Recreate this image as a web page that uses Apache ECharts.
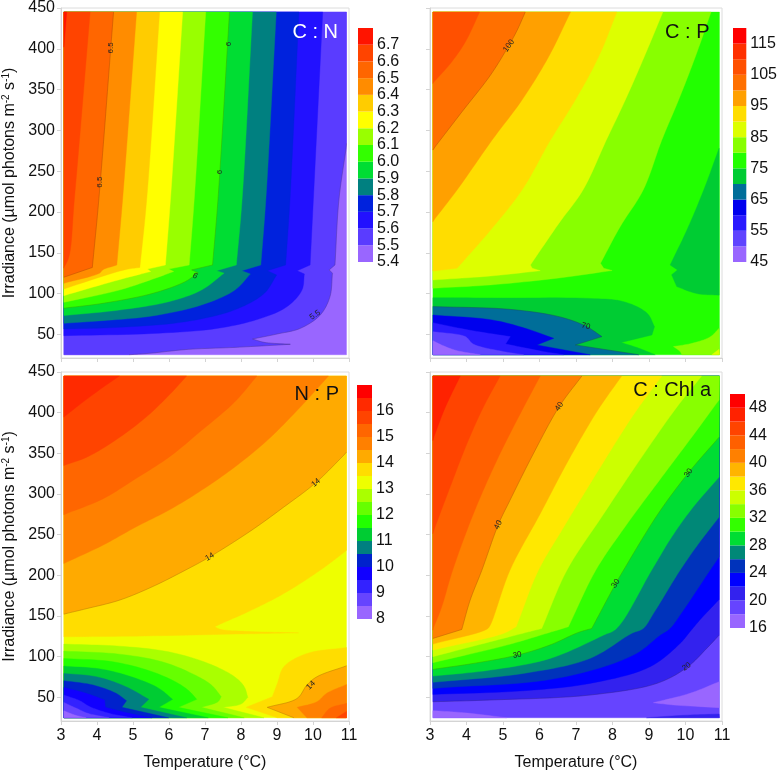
<!DOCTYPE html>
<html><head><meta charset="utf-8">
<script src="https://cdn.jsdelivr.net/npm/echarts@6/dist/echarts.min.js"></script>
<style>html,body{margin:0;padding:0;background:#fff}#c{width:780px;height:773px}</style>
</head><body><div id="c"></div>
<script>
const tempTicks = [3,4,5,6,7,8,9,10,11];
const irrTicks = [50,100,150,200,250,300,350,400,450];

// ---- C : N ----
const cnLevels = [5.4,5.5,5.6,5.7,5.8,5.9,6.0,6.1,6.2,6.3,6.4,6.5,6.6,6.7,6.8];
const cnColors = ['#9966ff','#5a3cff','#2211ff','#0022dd','#008080','#00dd33','#33ff00','#99ff00','#ffff00','#ffcc00','#ff8c00','#ff6600','#ff4400','#ff1400'];
const cnTicks = [5.4,5.5,5.6,5.7,5.8,5.9,6.0,6.1,6.2,6.3,6.4,6.5,6.6,6.7];
const cnContours = [
 [5.4,[[3,450],[11,450],[11,20],[3,20]]],
 [5.5,[[11,450],[10.94,284],[10.72,215],[10.61,135],[10.45,129],[10.54,125],[10.47,96],[10.2,73.7],[9.65,57.4],[9.0,50.4],[8.32,44.3],[8.64,40.2],[9.37,37.8],[7.82,34],[6.54,31.6],[5.44,26.7],[4.89,25],[3,20],[3,450]],true],
 [5.6,[[10.27,445],[10.01,215],[9.92,135],[9.56,128],[9.76,124],[9.69,104],[9.28,84],[8.55,69.6],[7.36,57.4],[5.53,51],[3.07,48.4],[3,450]]],
 [5.7,[[9.61,445],[9.36,215],[9.24,135],[8.73,128],[8.99,122.7],[8.64,100],[7.82,80],[6.45,65.5],[4.62,58.6],[3.07,56.6],[3,450]]],
 [5.8,[[8.98,445],[8.69,215],[8.55,135],[8.02,128],[8.26,124],[7.82,104],[6.9,86],[5.53,72.5],[4.16,66.8],[3.07,63.5],[3,450]]],
 [5.9,[[8.32,445],[8.03,215],[7.87,135],[7.32,128],[7.53,125],[6.9,104.3],[5.99,90],[4.62,79.8],[3.07,73],[3,450]]],
 [6.0,[[7.68,445],[7.36,215],[7.21,135],[6.63,129],[6.81,125.6],[6.45,114.6],[5.53,100],[4.16,88],[3.07,82],[3,450]],true],
 [6.1,[[7.02,445],[6.7,215],[6.56,135],[5.99,130],[6.13,127],[5.53,117.4],[4.62,104.3],[3.07,89.2],[3,450]]],
 [6.2,[[6.38,445],[6.04,215],[5.9,135],[5.4,130],[5.49,127],[4.62,117],[3.07,97.4],[3,450]]],
 [6.3,[[5.74,445],[5.38,215],[5.19,132],[4.76,129],[3.07,105.6],[3,450]]],
 [6.4,[[5.1,445],[4.71,215],[4.55,135],[4.16,129],[4.07,125],[3.07,112.5],[3,450]]],
 [6.5,[[4.46,445],[4.05,215],[3.87,132],[3.07,120],[3,450]],true],
 [6.6,[[3.81,445],[3.37,215],[3.22,145],[3.07,131],[3,450]]],
 [6.7,[[3.16,445],[3.07,402],[3,450]]]
];
const cnLabels = [[4.39,401,'6.5',90],[4.08,236.6,'6.5',90],[7.65,405.7,'6',90],[7.41,249,'6',90],[6.72,121.5,'6',-30],[10.06,73.7,'5.5',35]];

// ---- C : P ----
const cpLevels = [45,50,55,60,65,70,75,80,85,90,95,100,105,110,115,120];
const cpColors = ['#9966ff','#5f44ff','#2a1aff','#0000ee','#006e99','#00cc33','#22ff00','#88ff00','#ddff00','#ffdd00','#ffa000','#ff7000','#ff5000','#ff3000','#ff0000'];
const cpTicks = [45,55,65,75,85,95,105,115];
const cpContours = [
 [75,[[3,450],[11,450],[11,20],[3,20]]],
 [80,[[10.7,445],[10.27,390.3],[9.81,337.2],[9.35,288.1],[8.84,226.9],[8.21,182],[7.67,137],[7.76,131],[7.99,128.2],[6.48,118.8],[4.66,110.6],[3.07,106.5],[3,450]]],
 [85,[[9.38,445],[8.87,390.3],[8.35,337.2],[7.83,288.1],[7.19,226.9],[6.53,186],[5.75,135],[5.8,131],[6.02,128],[4.66,121.5],[3.07,116.6],[3,450]]],
 [90,[[8.12,445],[7.62,390.3],[6.98,337.2],[6.3,288.1],[5.52,226.9],[4.66,177.9],[3.74,131],[3.07,127.6],[3,450]]],
 [95,[[6.85,445],[6.25,390.3],[5.52,337.2],[4.7,288.1],[3.74,226.9],[3.07,188],[3,450]]],
 [100,[[5.61,445],[5.39,423],[5.16,404],[4.66,368],[3.88,323],[3.07,275.9],[3,450]],true],
 [105,[[4.36,445],[3.97,408.6],[3.56,382],[3.07,357.6],[3,450]]],
 [70,[[10.92,278],[10.5,227],[10.04,178],[9.58,135],[9.78,129],[9.62,123],[9.76,108.5],[10.31,100],[10.92,98]]],
 [70,[[3.07,94.9],[5,94.5],[7.39,94],[8.31,90],[8.95,75.8],[9.15,59.4],[9.08,49.2],[8.24,40],[8.72,33],[9.17,25],[3,20]]],
 [65,[[3.07,84],[5.16,80.7],[6.53,71.7],[7.27,60],[7.71,47.2],[6.98,37],[8.72,25],[3,20]],true],
 [60,[[3.07,73.7],[4.7,67.6],[5.61,57.4],[6.39,45.1],[5.93,37],[7.39,25],[3,20]]],
 [55,[[3.07,64.3],[4.06,55.3],[5.2,47.2],[5.07,38.2],[6.12,28.8],[6.66,25],[3,20]]],
 [50,[[3.07,53.3],[3.97,47.2],[4.18,38.2],[5.02,28.8],[5.57,25],[3,20]]],
 [45,[[3.07,42.3],[3.42,35],[3.74,30],[4.38,25],[3,20]]],
 [80,[[10.92,57.4],[10.68,47],[10.18,39],[9.67,35],[9.85,29],[9.9,25],[11,20]]],
 [85,[[10.72,25],[10.92,31.6],[11,20]]]
];
const cpLabels = [[5.16,403.7,'100',55],[7.27,60,'70',-15]];

// ---- N : P ----
const npLevels = [8,8.5,9,9.5,10,10.5,11,11.5,12,12.5,13,13.5,14,14.5,15,15.5,16,16.5,17];
const npColors = ['#9966ff','#6644ff','#3322ff','#1100ff','#0022cc','#008080','#00cc33','#22ff00','#66ff00','#aaff00','#eeff00','#ffdd00','#ffaa00','#ff8000','#ff6600','#ff4400','#ff2a00','#ff0000'];
const npTicks = [8,9,10,11,12,13,14,15,16];
const npContours = [
 [13,[[3,450],[11,450],[11,20],[3,20]]],
 [13.5,[[11,450],[10.94,230.8],[10.2,206.3],[9.19,177.7],[8.28,157],[7.36,138.8],[7.27,136.8],[7.45,133.5],[8,131.5],[9.6,129.4],[7.82,127.8],[5.08,125.3],[3.07,124.5],[3,450]]],
 [14,[[11,450],[10.94,351.5],[10.08,314],[9.19,284],[8.28,255],[7.13,222.7],[6.45,206.3],[5.53,185.9],[4.62,169.5],[3.7,159],[3.07,152.3],[3,450]],true],
 [14.5,[[10.43,445],[9.65,407],[8.73,366],[7.82,333],[6.9,304.5],[5.99,280],[5.08,259.5],[4.16,237],[3.07,214.5],[3,450]]],
 [15,[[8.44,445],[7.82,413],[6.9,378],[5.99,345],[5.08,319],[4.16,294],[3.07,274.6],[3,450]]],
 [15.5,[[6.49,445],[5.99,421],[5.35,394],[4.44,364],[3.7,345],[3.07,335],[3,450]]],
 [16,[[4.62,445],[4.16,431],[3.61,413],[3.07,394.4],[3,450]]],
 [12.5,[[3.07,115.5],[4.62,113],[5.99,106],[7.09,91.8],[7.82,75.4],[8.09,63.2],[8.19,50],[8,41.9],[7.5,37.8],[8.64,25],[3,20]]],
 [12,[[3.07,106.9],[4.62,103.2],[5.81,93.8],[6.63,79.5],[7.18,65.2],[7.45,50.9],[7.36,44.7],[6.9,37.8],[8.09,25],[3,20]]],
 [11.5,[[3.07,97.9],[4.44,93.8],[5.53,81.6],[6.26,67.2],[6.58,57],[6.77,47.6],[6.26,37.8],[7.64,25],[3,20]]],
 [11,[[3.07,88.5],[4.16,84.4],[5.08,73.4],[5.72,61.1],[6.1,47.6],[5.72,37.8],[7.09,25],[3,20]]],
 [10.5,[[3.07,79.5],[3.98,75.4],[4.8,63.2],[5.44,47.6],[5.21,37.8],[6.49,25],[3,20]]],
 [10,[[3.07,70.5],[3.89,65.2],[4.53,55],[4.82,46],[4.69,37.8],[5.99,25],[3,20]]],
 [9.5,[[3.07,62.3],[3.7,55],[4.21,46.8],[4.23,37.8],[4.89,30.4],[5.53,25],[3,20]]],
 [9,[[3.07,53],[3.52,46],[3.8,38.6],[4.34,30.4],[4.98,25],[3,20]]],
 [8.5,[[3.07,43.9],[3.43,36.6],[3.75,30.4],[4.34,25],[3,20]]],
 [8,[[3.07,33.7],[3.38,28.4],[3.7,25],[3,20]]],
 [13.5,[[10.94,111.4],[9.83,104],[9.19,87.7],[9.01,67.2],[8.87,50.9],[8.14,37.8],[9.01,25],[11,20]]],
 [14,[[10.94,88.9],[10.11,75.4],[9.83,65.2],[9.56,48.8],[8.73,37.8],[9.47,25],[11,20]],true],
 [14.5,[[10.94,66],[10.38,55],[10.11,44.7],[9.56,37.8],[9.83,25],[11,20]]],
 [15,[[10.94,42.7],[10.47,36.6],[10.24,25],[11,20]]],
 [15.5,[[10.94,32.8],[10.65,25],[11,20]]]
];
const npLabels = [[7.13,222.7,'14',30],[10.08,313.9,'14',40],[9.94,65,'14',45]];

// ---- C : Chl a ----
const chlLevels = [16,18,20,22,24,26,28,30,32,34,36,38,40,42,44,46,48,50];
const chlColors = ['#9966ff','#6644ff','#3322ee','#0000ff','#0033bb','#008877','#00dd33','#33ff00','#88ff00','#ccff00','#ffe800','#ffb400','#ff8000','#ff6000','#ff4400','#ff2200','#ff0000'];
const chlTicks = [16,20,24,28,32,36,40,44,48];
const chlContours = [
 [18,[[3,450],[11,450],[11,20],[3,20]]],
 [20,[[11,450],[10.92,126.5],[10.58,110.2],[10.03,86.5],[9.21,67.2],[7.38,52.9],[4.65,46.8],[3.07,44.7],[3,450]],true],
 [22,[[11,450],[10.92,170.3],[10.39,145],[10.12,130.6],[9.85,116.3],[9.03,87.7],[7.38,67.2],[5.56,58.2],[3.07,53.7],[3,450]]],
 [24,[[11,450],[10.92,222.7],[10.67,206.3],[9.94,157.2],[9.57,134.7],[9.3,126.5],[8.57,102],[6.47,73.4],[3.07,61.1],[3,450]]],
 [26,[[11,450],[10.92,271.7],[10.39,241],[9.85,206.3],[9.12,153.1],[8.84,134.7],[8.52,128.6],[7.38,97.9],[5.56,79.5],[3.07,68.5],[3,450]]],
 [28,[[11,450],[10.92,320.8],[10.21,284],[9.62,247.2],[9.07,206.3],[8.11,134.7],[7.75,126.5],[6.29,97.9],[4.65,83.6],[3.07,76.2],[3,450]]],
 [30,[[11,450],[10.92,369.9],[10.08,326.1],[9.25,275.8],[8.3,206.3],[8.09,190],[7.43,134.7],[7.06,129.8],[6.28,114.3],[5.39,102],[4.19,91.8],[3.07,84.4],[3,450]],true],
 [32,[[11,450],[10.92,415.7],[10.17,369.9],[9.35,320.8],[8.34,259.5],[7.54,206.3],[6.79,136.8],[6.33,130.6],[5.1,114.3],[3.07,92.6],[3,450]]],
 [34,[[10.44,445],[9.76,406.7],[8.8,345.4],[7.7,271.7],[6.75,206.3],[6.06,134.7],[5.7,130.6],[4.65,118.4],[3.07,100],[3,450]]],
 [36,[[9.35,445],[8.59,398.5],[7.78,341.3],[6.61,255.4],[5.97,206.3],[5.36,136.8],[5.01,128.6],[3.07,108.1],[3,450]]],
 [38,[[8.25,445],[7.59,402.6],[6.79,341.3],[6.02,275.8],[5.19,206.3],[4.65,138.8],[4.56,133.9],[3.07,115.5],[3,450]]],
 [40,[[7.16,445],[6.54,407.5],[5.83,349.4],[5.19,292.2],[4.87,262.3],[4.42,206.3],[4.1,169.5],[3.87,133.5],[3.07,122.5],[3,450]],true],
 [42,[[6.02,445],[5.47,398.5],[4.83,341.3],[4.19,275.8],[3.62,206.3],[3.32,161.3],[3.07,132.7],[3,450]]],
 [44,[[4.92,445],[4.46,406.7],[4.01,361.7],[3.55,308.5],[3.07,251.3],[3,450]]],
 [46,[[3.83,445],[3.42,406.7],[3.07,365.8],[3,450]]],
 [16,[[10.92,69.3],[10.12,55],[9.12,43.5],[9.67,40.7],[10.92,37.4]]],
 [16,[[3.07,33.7],[3.92,31.2],[5.1,25],[3,20]]],
 [20,[[8.93,25],[9.94,28],[10.92,29.6],[11,20]]]
];
const chlLabels = [[6.54,407.5,'40',55],[4.87,262,'40',65],[10.08,326,'30',55],[8.09,190,'30',55],[5.39,102,'30',10],[10.03,87.7,'20',35]];

const FONT = '"Liberation Sans", Arial, sans-serif';
const DX0 = 3.08, DX1 = 10.93, DY0 = 25, DY1 = 445;
const inDomain = p => p[0] >= 3.05 && p[0] <= 10.95 && p[1] >= 24.9 && p[1] <= 445.1;

function spline(pts) {
  if (pts.length < 3) return pts.slice();
  const out = [pts[0]];
  const n = pts.length;
  const ghost = (a, b) => [2*a[0]-b[0], 2*a[1]-b[1]];
  const d = (a, b) => Math.max(Math.sqrt(Math.hypot(a[0]-b[0], a[1]-b[1])), 1e-3);
  for (let i = 0; i < n-1; i++) {
    const p0 = i > 0 ? pts[i-1] : ghost(pts[0], pts[1]);
    const p1 = pts[i], p2 = pts[i+1];
    const p3 = i+2 < n ? pts[i+2] : ghost(pts[n-1], pts[n-2]);
    const t0 = 0, t1 = t0+d(p0,p1), t2 = t1+d(p1,p2), t3 = t2+d(p2,p3);
    for (let k = 1; k <= 10; k++) {
      const t = t1 + (t2-t1)*k/10;
      const mix = (a,b,ta,tb) => [0,1].map(j => (tb-t)/(tb-ta)*a[j] + (t-ta)/(tb-ta)*b[j]);
      const a1 = mix(p0,p1,t0,t1), a2 = mix(p1,p2,t1,t2), a3 = mix(p2,p3,t2,t3);
      const b1 = mix(a1,a2,t0,t2), b2 = mix(a2,a3,t1,t3);
      out.push(mix(b1,b2,t1,t2));
    }
  }
  return out;
}

// Curves stay smooth between points, but hard corners of a contour stay hard.
function smoothRun(pts) {
  const out = [];
  let piece = [pts[0]];
  for (let i = 1; i < pts.length; i++) {
    piece.push(pts[i]);
    if (i < pts.length-1) {
      const a = Math.atan2(pts[i][1]-pts[i-1][1], pts[i][0]-pts[i-1][0]);
      const b = Math.atan2(pts[i+1][1]-pts[i][1], pts[i+1][0]-pts[i][0]);
      let turn = Math.abs(b-a); if (turn > Math.PI) turn = 2*Math.PI-turn;
      if (turn > 40*Math.PI/180) {
        spline(piece).forEach(q => out.push(q));
        piece = [pts[i]];
      }
    }
  }
  spline(piece).forEach(q => out.push(q));
  return out;
}

function contourSeries(contours, levels, colors, axis) {
  return {
    type: 'custom', xAxisIndex: axis, yAxisIndex: axis, silent: true, animation: false,
    coordinateSystem: 'cartesian2d', clip: false, progressive: 0,
    data: contours.map((_, i) => [i, i]),
    renderItem(params, api) {
      const c = contours[api.value(0)];
      const tl = api.coord([DX0, DY1]), br = api.coord([DX1, DY0]);
      const clamp = p => [Math.min(Math.max(p[0], tl[0]), br[0]), Math.min(Math.max(p[1], tl[1]), br[1])];
      const all = [], runs = [];
      let cur = [];
      const flush = () => {
        if (cur.length) { const s = smoothRun(cur).map(clamp); runs.push(s); s.forEach(q => all.push(q)); cur = []; }
      };
      c[1].forEach(p => {
        if (inDomain(p)) cur.push(api.coord(p));
        else { flush(); all.push(clamp(api.coord(p))); }
      });
      flush();
      const fill = colors[levels.indexOf(c[0])];
      const kids = [{ type: 'polygon', shape: { points: all }, style: { fill: fill, stroke: fill, lineWidth: 0.4 } }];
      if (c[2]) runs.forEach(r => kids.push({ type: 'polyline', shape: { points: r }, style: { fill: null, stroke: 'rgba(60,40,0,0.3)', lineWidth: 0.6 } }));
      return { type: 'group', children: kids };
    }
  };
}

function labelSeries(labels, axis) {
  return {
    type: 'custom', xAxisIndex: axis, yAxisIndex: axis, silent: true, animation: false, clip: false, z: 5,
    data: labels.map((_, i) => [i, i]),
    renderItem(params, api) {
      const l = labels[api.value(0)];
      const p = api.coord([l[0], l[1]]);
      return { type: 'text', x: p[0], y: p[1], rotation: l[3]*Math.PI/180,
        style: { text: l[2], fontSize: 8, fontFamily: FONT, fill: '#222', align: 'center', verticalAlign: 'middle' } };
    }
  };
}

function barSeries(levels, colors, axis) {
  return {
    type: 'custom', xAxisIndex: axis, yAxisIndex: axis, silent: true, animation: false,
    data: colors.map((_, i) => [i, i]),
    renderItem(params, api) {
      const i = api.value(0);
      const a = api.coord([0, levels[i+1]]), b = api.coord([1, levels[i]]);
      return { type: 'rect', shape: { x: a[0], y: a[1], width: b[0]-a[0], height: b[1]-a[1] }, style: { fill: colors[i] } };
    }
  };
}

const YNAME = 'Irradiance (µmol photons m{sup|-2} s{sup|-1})';
const panels = [
 { g:{left:58,top:8,width:291,height:350},  b:{left:358,top:28,width:15,height:234},  xl:false, yl:true,  d:[cnContours,cnLevels,cnColors,cnLabels,cnTicks,1] },
 { g:{left:430,top:8,width:292,height:350}, b:{left:733,top:28,width:15,height:234},  xl:false, yl:false, d:[cpContours,cpLevels,cpColors,cpLabels,cpTicks,0] },
 { g:{left:58,top:372,width:291,height:349},b:{left:357,top:385,width:15,height:234}, xl:true,  yl:true,  d:[npContours,npLevels,npColors,npLabels,npTicks,0] },
 { g:{left:430,top:372,width:292,height:349},b:{left:730,top:394,width:15,height:234},xl:true,  yl:false, d:[chlContours,chlLevels,chlColors,chlLabels,chlTicks,0] }
];

const grid = [], xAxis = [], yAxis = [], series = [];
panels.forEach((P, k) => {
  grid.push(Object.assign({ show:true, borderColor:'#dcdcdc', borderWidth:1, backgroundColor:'#fff' }, P.g));
  xAxis.push({ gridIndex:k, type:'value', min:3, max:11, interval:1, splitLine:{show:false},
    axisLine:{lineStyle:{color:'#d4d4d4'}}, axisTick:{show:true,length:4,lineStyle:{color:'#d4d4d4'}},
    axisLabel:{show:P.xl,color:'#111',fontSize:16,fontFamily:FONT,margin:7},
    name:P.xl?'Temperature (°C)':'', nameLocation:'middle', nameGap:34, nameTextStyle:{color:'#111',fontSize:16,fontFamily:FONT} });
  yAxis.push({ gridIndex:k, type:'value', min:21, max:450, splitLine:{show:false},
    axisLine:{lineStyle:{color:'#d4d4d4'}},
    axisTick:{show:true,length:4,lineStyle:{color:'#d4d4d4'},customValues:irrTicks},
    axisLabel:{show:P.yl,color:'#111',fontSize:16,fontFamily:FONT,margin:6,customValues:irrTicks},
    name:P.yl?YNAME:'', nameLocation:'middle', nameGap:42, nameRotate:90,
    nameTextStyle:{color:'#111',fontSize:16,fontFamily:FONT,lineHeight:18,rich:{sup:{fontSize:10,lineHeight:18,verticalAlign:'top',color:'#111',fontFamily:FONT}}} });
  series.push(contourSeries(P.d[0],P.d[1],P.d[2],k));
  series.push(labelSeries(P.d[3],k));
});
panels.forEach((P, k) => {
  const j = 4+k, lv = P.d[1];
  grid.push(Object.assign({ show:false }, P.b));
  xAxis.push({ gridIndex:j, type:'value', min:0, max:1, show:false });
  yAxis.push({ gridIndex:j, type:'value', position:'right', min:lv[0], max:lv[lv.length-1],
    axisLine:{show:false}, axisTick:{show:false}, splitLine:{show:false},
    axisLabel:{color:'#111',fontSize:16,fontFamily:FONT,margin:4,customValues:P.d[4],
      formatter:v => P.d[5] ? v.toFixed(P.d[5]) : String(v)} });
  series.push(barSeries(lv,P.d[2],j));
});

const titles = [
 ['C : N',338,32,'#ffffff'],['C : P',709.5,32,'#111'],['N : P',339,394,'#111'],['C : Chl a',711,390,'#111']
];
const chart = echarts.init(document.getElementById('c'), null, { renderer:'canvas' });
chart.setOption({
  animation:false, backgroundColor:'#fff', grid, xAxis, yAxis, series,
  graphic: titles.map(t => ({ type:'text', x:t[1], y:t[2], z:100,
    style:{ text:t[0], fontSize:20, fontFamily:FONT, fill:t[3], align:'right', verticalAlign:'middle' } }))
});
</script></body></html>
